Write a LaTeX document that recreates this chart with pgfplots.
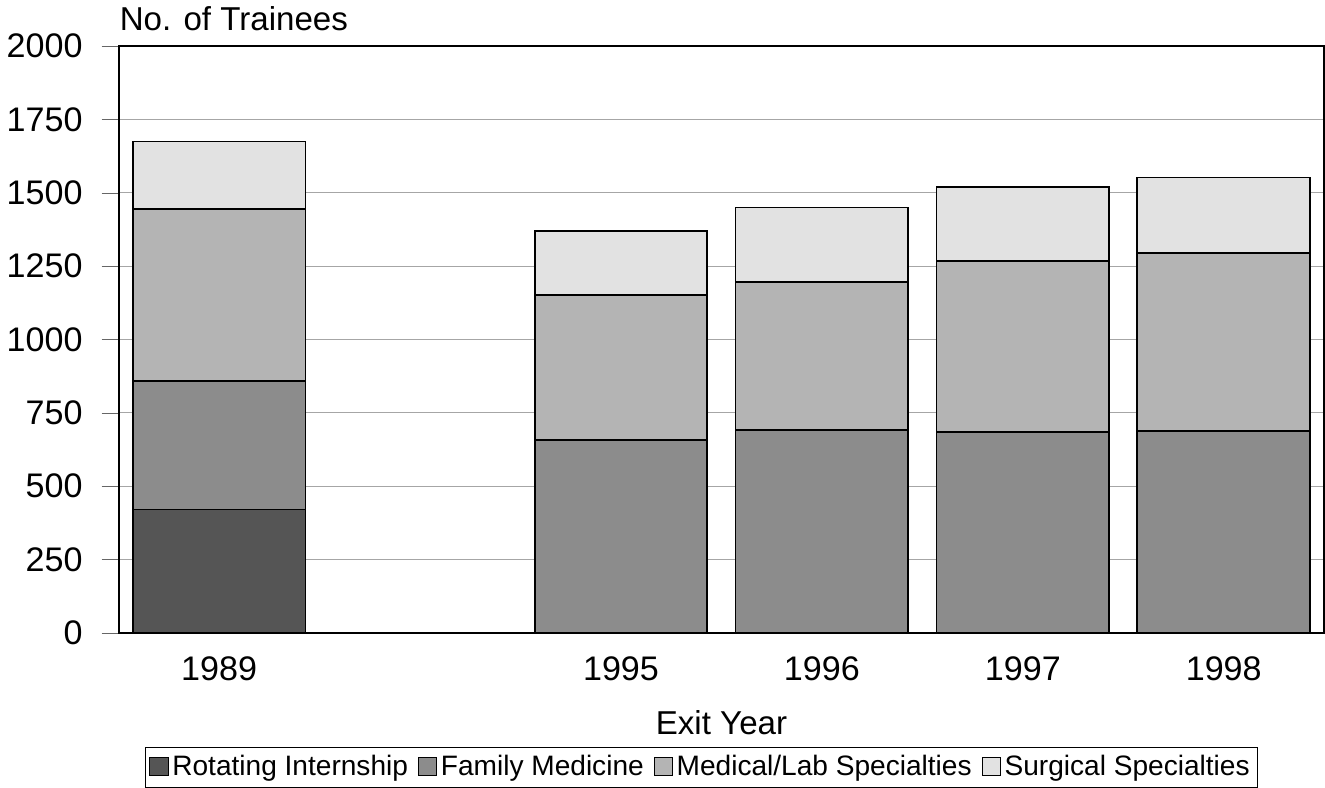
\documentclass[border=0pt]{standalone}
\usepackage{fontspec}
\setmainfont{Liberation Sans}
\usepackage{pgfplots}
\pgfplotsset{compat=1.18}

\definecolor{rotint}{HTML}{555555}
\definecolor{fammed}{HTML}{8C8C8C}
\definecolor{medlab}{HTML}{B4B4B4}
\definecolor{surg}{HTML}{E2E2E2}

\begin{document}
\begin{tikzpicture}
  \begin{axis}[
    scale only axis,
    width=601pt, height=292.5pt,
    ybar stacked,
    bar width=0.86,
    xmin=-0.5, xmax=5.5,
    ymin=0, ymax=2000,
    xtick={0,2,3,4,5},
    xticklabels={1989,1995,1996,1997,1998},
    ytick={0,250,500,750,1000,1250,1500,1750,2000},
    xtick pos=left, ytick pos=left,
    /pgf/number format/1000 sep={},
    /pgf/number format/assume math mode=true,
    tick label style={font=\fontsize{17}{20}\selectfont},
    xtick style={draw=none},
    ytick style={draw=gray!80!black},
    tick align=outside,
    major tick length=8.5pt,
    yticklabel style={xshift=-6pt},
    xticklabel style={yshift=0pt},
    ymajorgrids,
    major grid style={draw=gray!70, line width=0.6pt},
    axis line style={draw=black, line width=0.8pt},
    xlabel={Exit Year},
    xlabel style={font=\fontsize{16.5}{19}\selectfont, yshift=-8pt},
    ylabel={No. of Trainees},
    ylabel style={rotate=-90, at={(rel axis cs:0,1)}, anchor=south west,
      font=\fontsize{16.5}{19}\selectfont, xshift=-3pt, yshift=4pt},
    legend columns=4,
    legend style={at={(0.4835,-0.195)}, anchor=north,
      font=\fontsize{14}{16}\selectfont, draw=black, line width=0.4pt,
      inner sep=2pt,
      /tikz/every even column/.append style={column sep=3pt}},
    legend image code/.code={
      \draw[#1, line width=0.4pt] (0pt,-4pt) rectangle (9pt,5pt);},
    every axis plot/.append style={draw=black, line width=0.9pt},
  ]
    \addplot[fill=rotint] coordinates {(0,420) (2,0) (3,0) (4,0) (5,0)};
    \addplot[fill=fammed] coordinates {(0,438) (2,656) (3,690) (4,684) (5,687)};
    \addplot[fill=medlab] coordinates {(0,588) (2,496) (3,507) (4,584) (5,609)};
    \addplot[fill=surg] coordinates {(0,229) (2,219) (3,253) (4,253) (5,256)};
    \legend{Rotating Internship,Family Medicine,Medical/Lab Specialties,Surgical Specialties}
  \end{axis}
\end{tikzpicture}
\end{document}
